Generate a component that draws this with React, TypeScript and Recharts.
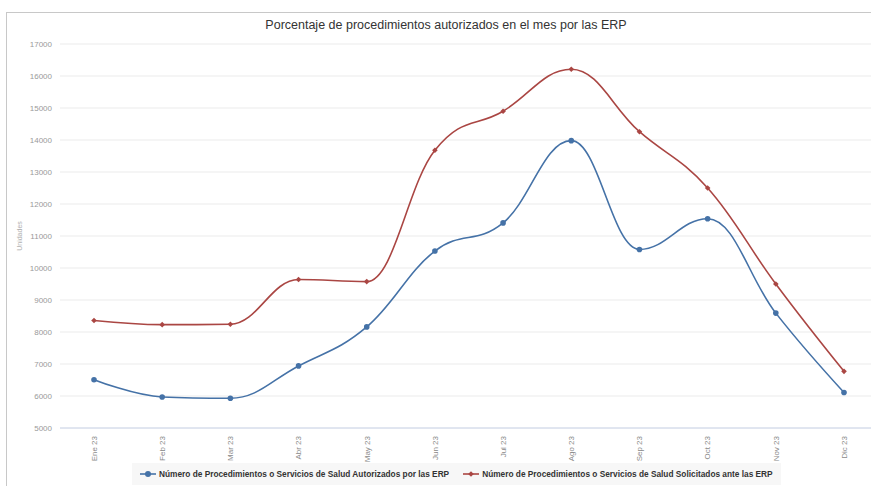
import { CartesianGrid, Line, LineChart, XAxis, YAxis } from "recharts";

const months = ["Ene 23", "Feb 23", "Mar 23", "Abr 23", "May 23", "Jun 23", "Jul 23", "Ago 23", "Sep 23", "Oct 23", "Nov 23", "Dic 23"];
const autorizados = [6510, 5970, 5930, 6940, 8160, 10530, 11410, 13980, 10580, 11540, 8590, 6110];
const solicitados = [8360, 8230, 8240, 9640, 9575, 13680, 14900, 16210, 14260, 12500, 9500, 6770];
const yTicks = [5000, 6000, 7000, 8000, 9000, 10000, 11000, 12000, 13000, 14000, 15000, 16000, 17000];

const nameAut = "Número de Procedimientos o Servicios de Salud Autorizados por las ERP";
const nameSol = "Número de Procedimientos o Servicios de Salud Solicitados ante las ERP";
const BLUE = "#4572A7";
const RED = "#AA4643";
const FONT = '"Liberation Sans", Arial, Helvetica, sans-serif';

const data = months.map((m, i) => ({ month: m, aut: autorizados[i], sol: solicitados[i] }));

// spline like the old highcharts one (smoothing 1.5, no overshoot past neighbours)
function splineCurve(context: any) {
	let pts: number[][] = [];
	return {
		areaStart() {},
		areaEnd() {},
		lineStart() {
			pts = [];
		},
		point(x: number, y: number) {
			pts.push([+x, +y]);
		},
		lineEnd() {
			if (!pts.length) return;
			const left = pts.map((p) => [p[0], p[1]]);
			const right = pts.map((p) => [p[0], p[1]]);
			for (let i = 1; i < pts.length - 1; i++) {
				const [lx, ly] = pts[i - 1];
				const [px, py] = pts[i];
				const [nx, ny] = pts[i + 1];
				const s = 1.5;
				const d = s + 1;
				const lcx = (s * px + lx) / d;
				let lcy = (s * py + ly) / d;
				const rcx = (s * px + nx) / d;
				let rcy = (s * py + ny) / d;
				if (rcx !== lcx) {
					const corr = ((rcy - lcy) * (rcx - px)) / (rcx - lcx) + py - rcy;
					lcy += corr;
					rcy += corr;
				}
				if (lcy > ly && lcy > py) {
					lcy = Math.max(ly, py);
					rcy = 2 * py - lcy;
				} else if (lcy < ly && lcy < py) {
					lcy = Math.min(ly, py);
					rcy = 2 * py - lcy;
				}
				if (rcy > ny && rcy > py) {
					rcy = Math.max(ny, py);
					lcy = 2 * py - rcy;
				} else if (rcy < ny && rcy < py) {
					rcy = Math.min(ny, py);
					lcy = 2 * py - rcy;
				}
				left[i] = [lcx, lcy];
				right[i] = [rcx, rcy];
			}
			context.moveTo(pts[0][0], pts[0][1]);
			for (let i = 1; i < pts.length; i++) {
				context.bezierCurveTo(right[i - 1][0], right[i - 1][1], left[i][0], left[i][1], pts[i][0], pts[i][1]);
			}
		},
	};
}

function Diamond(props: any) {
	const { cx, cy } = props;
	if (cx == null || cy == null) return null;
	const r = 2.8;
	return <path d={`M${cx} ${cy - r}L${cx + r} ${cy}L${cx} ${cy + r}L${cx - r} ${cy}Z`} fill={RED} />;
}

function MonthTick(props: any) {
	const { x, y, payload } = props;
	return (
		<text
			x={x}
			y={y}
			transform={`rotate(-90 ${x} ${y})`}
			textAnchor="end"
			dy="0.35em"
			fontSize={8}
			fill="#8a8a8a"
			fontFamily={FONT}
		>
			{payload.value}
		</text>
	);
}

function LegendItem({ color, label, diamond }: { color: string; label: string; diamond?: boolean }) {
	return (
		<div style={{ display: "flex", alignItems: "center", gap: 3 }}>
			<svg width={16} height={8}>
				<line x1={0} y1={4} x2={16} y2={4} stroke={color} strokeWidth={1.6} />
				{diamond ? (
					<path d="M8 1.2L10.8 4L8 6.8L5.2 4Z" fill={color} />
				) : (
					<circle cx={8} cy={4} r={3} fill={color} />
				)}
			</svg>
			<span>{label}</span>
		</div>
	);
}

export default function App() {
	return (
		<div
			style={{
				position: "absolute",
				left: 0,
				top: 0,
				width: 871,
				height: 486,
				overflow: "hidden",
				background: "#fff",
				fontFamily: FONT,
			}}
		>
			<div
				style={{
					position: "absolute",
					left: 6,
					top: 12,
					width: 920,
					height: 520,
					border: "1px solid #c8c8c8",
				}}
			/>
			<div
				style={{
					position: "absolute",
					left: 0,
					top: 18,
					width: 892,
					textAlign: "center",
					fontSize: 12.5,
					color: "#333",
				}}
			>
				Porcentaje de procedimientos autorizados en el mes por las ERP
			</div>
			<div style={{ position: "absolute", left: 0, top: 0 }}>
				<LineChart width={890} height={486} data={data} margin={{ top: 44, right: 12, bottom: 28, left: 0 }}>
					<CartesianGrid horizontal vertical={false} stroke="#ebebeb" />
					<XAxis
						dataKey="month"
						tick={<MonthTick />}
						tickLine={false}
						axisLine={{ stroke: "#ccd6eb" }}
						interval={0}
						height={30}
						padding={{ left: 34, right: 34 }}
					/>
					<YAxis
						domain={[5000, 17000]}
						ticks={yTicks}
						width={60}
						tick={{ fontSize: 8, fill: "#9a9a9a", fontFamily: FONT }}
						tickLine={false}
						axisLine={false}
						label={{
							content: (p: any) => {
								const vb = p.viewBox;
								const cx = vb.x + 22;
								const cy = vb.y + vb.height / 2;
								return (
									<text
										x={cx}
										y={cy}
										transform={`rotate(-90 ${cx} ${cy})`}
										textAnchor="middle"
										fontSize={7}
										fill="#b0b0b0"
										fontFamily={FONT}
									>
										Unidades
									</text>
								);
							},
						}}
					/>
					<Line
						dataKey="aut"
						name={nameAut}
						type={splineCurve as any}
						stroke={BLUE}
						strokeWidth={1.6}
						dot={{ r: 2.8, fill: BLUE, stroke: BLUE, strokeWidth: 0 }}
						isAnimationActive={false}
					/>
					<Line
						dataKey="sol"
						name={nameSol}
						type={splineCurve as any}
						stroke={RED}
						strokeWidth={1.6}
						dot={<Diamond />}
						isAnimationActive={false}
					/>
				</LineChart>
			</div>
			<div
				style={{
					position: "absolute",
					left: 132,
					top: 463,
					height: 22,
					padding: "0 8px",
					background: "#f7f7f7",
					display: "flex",
					alignItems: "center",
					gap: 14,
					fontSize: 8.3,
					fontWeight: "bold",
					color: "#333",
				}}
			>
				<LegendItem color={BLUE} label={nameAut} />
				<LegendItem color={RED} label={nameSol} diamond />
			</div>
		</div>
	);
}
